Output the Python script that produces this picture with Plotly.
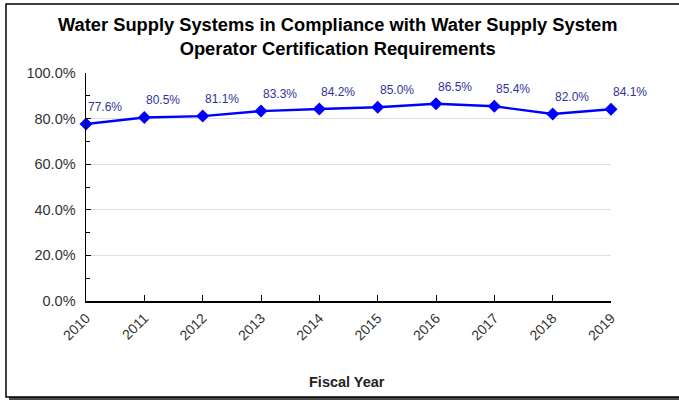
import plotly.graph_objects as go

years = [2010, 2011, 2012, 2013, 2014, 2015, 2016, 2017, 2018, 2019]
compliance = [77.6, 80.5, 81.1, 83.3, 84.2, 85.0, 86.5, 85.4, 82.0, 84.1]
labels = [f"{v:.1f}%" for v in compliance]
y_ticks = [0, 20, 40, 60, 80, 100]
y_ticklabels = [f"{v:.1f}%" for v in y_ticks]
title_text = "<b>Water Supply Systems in Compliance with Water Supply System<br>Operator Certification Requirements</b>"
x_title = "<b>Fiscal Year</b>"

FONT = "Arial, Liberation Sans, sans-serif"

W, H = 679, 400
L, R, T, B = 86, 68, 73, 99
pw, ph = W - L - R, H - T - B


def px(x):
    return (x - L) / pw


def py(y):
    return (H - B - y) / ph


fig = go.Figure()
fig.add_trace(go.Scatter(
    x=years, y=compliance, mode="lines+markers",
    line=dict(color="#0000FF", width=2.4),
    marker=dict(symbol="diamond", size=10, color="#0000FF"),
    hoverinfo="skip", showlegend=False, cliponaxis=False,
))

for x, y, t in zip(years, compliance, labels):
    fig.add_annotation(x=x, y=y, text=t, showarrow=False, xanchor="left",
                       yanchor="middle", yshift=17, xshift=0,
                       font=dict(family=FONT, size=12, color="#333399"))

# shadow + frame
fig.add_shape(type="rect", xref="paper", yref="paper", layer="below",
              x0=px(9), x1=px(690), y0=py(401), y1=py(7),
              line=dict(width=0), fillcolor="#4a4a4a")
fig.add_shape(type="rect", xref="paper", yref="paper", layer="below",
              x0=px(6), x1=px(688), y0=py(397), y1=py(4),
              line=dict(width=1.5, color="#000000"), fillcolor="#ffffff")

fig.add_annotation(xref="paper", yref="paper", x=px(337), y=py(37),
                   text=title_text, showarrow=False, xanchor="center", yanchor="middle",
                   font=dict(family=FONT, size=18.3, color="#000000"))
fig.add_annotation(xref="paper", yref="paper", x=px(347), y=py(382),
                   text=x_title, showarrow=False, xanchor="center", yanchor="middle",
                   font=dict(family=FONT, size=14.5, color="#222222"))

fig.update_layout(
    width=W, height=H,
    margin=dict(l=L, r=R, t=T, b=B, autoexpand=False),
    paper_bgcolor="rgba(0,0,0,0)", plot_bgcolor="rgba(0,0,0,0)",
    font=dict(family=FONT, size=13, color="#333333"),
)
fig.update_xaxes(range=[2010, 2019], tickvals=years, ticktext=[str(y) for y in years],
                 tickangle=-45, showgrid=False, showline=True, linecolor="#000000",
                 linewidth=1.5, ticks="inside", ticklen=6, tickcolor="#000000",
                 zeroline=False, ticklabelstandoff=2,
                 tickfont=dict(family=FONT, size=14, color="#333333"))
fig.update_yaxes(range=[0, 100], tickvals=y_ticks, ticktext=y_ticklabels,
                 showgrid=True, gridcolor="#e0e0e0", gridwidth=1,
                 showline=True, linecolor="#000000", linewidth=1.5,
                 ticks="inside", ticklen=5, tickcolor="#000000", zeroline=False,
                 ticklabelstandoff=6,
                 minor=dict(dtick=10, ticks="inside", ticklen=4, tickcolor="#000000", showgrid=False),
                 tickfont=dict(family=FONT, size=14.5, color="#333333"))

fig.write_html("out.html", config={"displayModeBar": False, "staticPlot": True},
               post_script="document.body.style.margin='0px';document.body.style.overflow='hidden';")
